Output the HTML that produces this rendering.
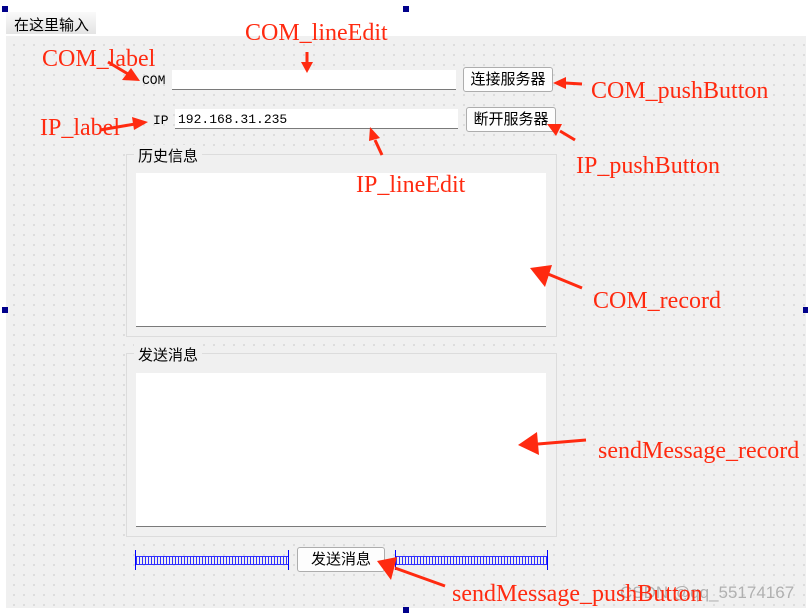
<!DOCTYPE html>
<html><head><meta charset="utf-8"><style>
body{margin:0;width:808px;height:612px;background:#fff;position:relative;overflow:hidden;font-family:"Liberation Sans","Noto Sans CJK SC",sans-serif;}
.a{position:absolute;box-sizing:border-box;}
.grid{left:6px;top:36px;width:800px;height:572px;background-color:#f0f0f0;background-image:radial-gradient(circle,#a8a8a8 0.5px,transparent 0.8px);background-size:10px 10px;background-position:3px 4px;}
.le{background:#fff;border-bottom:1px solid #7a7a7a;}
.btn{background:#fdfdfd;border:1px solid #adadad;border-radius:3px;font-size:15px;text-align:center;line-height:23px;color:#000;font-family:"Liberation Sans","Noto Sans CJK SC",sans-serif;}
.gb{border:1px solid #dcdcdc;background:#f0f0f0;}
.ta{background:#fff;border-bottom:1px solid #7a7a7a;}
.t{font-size:15px;color:#000;font-family:"Liberation Sans","Noto Sans CJK SC",sans-serif;}
.m{font-family:"Liberation Mono","Noto Sans CJK SC",monospace;font-size:13px;}
.r{position:absolute;font-family:"Liberation Serif",serif;font-size:24px;color:#ff2a10;white-space:nowrap;}
.h{position:absolute;width:6px;height:6px;background:#00008b;}
.sp{height:9px;background:repeating-linear-gradient(90deg,#3030ff 0 1px,transparent 1px 3px);border-top:1px solid #3030ff;border-bottom:1px solid #3030ff;}
</style></head><body>
<div class="a grid"></div>
<div class="a" style="left:6px;top:12px;width:90px;height:22px;background:linear-gradient(#fafafa,#e4e4e4);"></div>
<div class="a t" style="left:14px;top:14px;">在这里输入</div>
<div class="h" style="left:2px;top:6px"></div><div class="h" style="left:403px;top:6px"></div>
<div class="h" style="left:2px;top:307px"></div><div class="h" style="left:803px;top:307px"></div>
<div class="h" style="left:403px;top:607px"></div>

<div class="a m" style="left:142px;top:73px;">COM</div>
<div class="a le" style="left:172px;top:70px;width:284px;height:20px;"></div>
<div class="a btn" style="left:463px;top:67px;width:90px;height:25px;">连接服务器</div>
<div class="a m" style="left:153px;top:113px;">IP</div>
<div class="a le" style="left:175px;top:109px;width:283px;height:20px;"></div>
<div class="a m" style="left:178px;top:112px;">192.168.31.235</div>
<div class="a btn" style="left:466px;top:107px;width:90px;height:25px;">断开服务器</div>

<div class="a gb" style="left:126px;top:154px;width:431px;height:183px;"></div>
<div class="a t" style="left:134px;top:145px;background:#f0f0f0;padding:0 4px;">历史信息</div>
<div class="a ta" style="left:136px;top:173px;width:410px;height:154px;"></div>
<div class="a gb" style="left:126px;top:353px;width:431px;height:184px;"></div>
<div class="a t" style="left:134px;top:344px;background:#f0f0f0;padding:0 4px;">发送消息</div>
<div class="a ta" style="left:136px;top:373px;width:410px;height:154px;"></div>

<div class="a" style="left:135px;top:550px;width:1px;height:20px;background:#00f"></div>
<div class="a sp" style="left:136px;top:556px;width:152px;"></div>
<div class="a" style="left:288px;top:550px;width:1px;height:20px;background:#00f"></div>
<div class="a" style="left:395px;top:550px;width:1px;height:20px;background:#00f"></div>
<div class="a sp" style="left:396px;top:556px;width:151px;"></div>
<div class="a" style="left:547px;top:550px;width:1px;height:20px;background:#00f"></div>
<div class="a btn" style="left:297px;top:547px;width:88px;height:25px;">发送消息</div>

<div class="r" style="left:620px;top:583px;color:#b0b0b0;font-family:'Liberation Sans',sans-serif;font-size:17px;">CSDN @qq_55174167</div>

<svg class="a" style="left:0;top:0" width="808" height="612">
<g fill="#ff2a10" stroke="#ff2a10" stroke-width="3">
<line x1="307" y1="52" x2="307" y2="64"/><polygon stroke="none" points="301,62 313,62 307,73"/>
<line x1="108" y1="62" x2="128" y2="74"/><polygon stroke="none" points="122,80 131,68 140,81"/>
<line x1="100" y1="130" x2="135" y2="124"/><polygon stroke="none" points="132,117 148,122 134,130"/>
<line x1="582" y1="84" x2="565" y2="83"/><polygon stroke="none" points="566,77 553,83 566,89"/>
<line x1="575" y1="140" x2="560" y2="131"/><polygon stroke="none" points="562,124 547,124 556,136"/>
<line x1="382" y1="155" x2="375" y2="140"/><polygon stroke="none" points="369,141 370,127 380,138"/>
<line x1="582" y1="288" x2="548" y2="274"/><polygon stroke="none" points="552,265 530,268 545,287"/>
<line x1="586" y1="440" x2="538" y2="444"/><polygon stroke="none" points="537,432 518,445 539,455"/>
<line x1="445" y1="586" x2="395" y2="568"/><polygon stroke="none" points="397,557 377,561 391,580"/>
</g></svg>

<div class="r" style="left:245px;top:20px;">COM_lineEdit</div>
<div class="r" style="left:42px;top:46px;">COM_label</div>
<div class="r" style="left:40px;top:115px;">IP_label</div>
<div class="r" style="left:591px;top:78px;">COM_pushButton</div>
<div class="r" style="left:576px;top:153px;">IP_pushButton</div>
<div class="r" style="left:356px;top:172px;">IP_lineEdit</div>
<div class="r" style="left:593px;top:288px;">COM_record</div>
<div class="r" style="left:598px;top:438px;">sendMessage_record</div>
<div class="r" style="left:452px;top:581px;">sendMessage_pushButton</div>
</body></html>
